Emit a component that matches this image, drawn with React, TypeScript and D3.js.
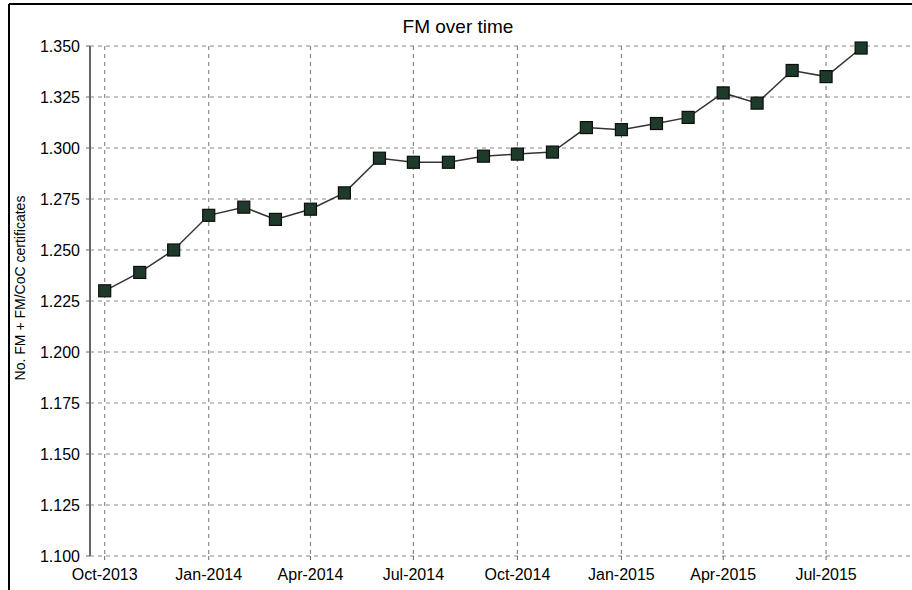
import React from "react";
import * as d3 from "d3";

const months: string[] = [
  "2013-10", "2013-11", "2013-12", "2014-01", "2014-02", "2014-03", "2014-04", "2014-05",
  "2014-06", "2014-07", "2014-08", "2014-09", "2014-10", "2014-11", "2014-12", "2015-01",
  "2015-02", "2015-03", "2015-04", "2015-05", "2015-06", "2015-07", "2015-08",
];
const values: number[] = [
  1.230, 1.239, 1.250, 1.267, 1.271, 1.265, 1.270, 1.278,
  1.295, 1.293, 1.293, 1.296, 1.297, 1.298, 1.310, 1.309,
  1.312, 1.315, 1.327, 1.322, 1.338, 1.335, 1.349,
];
const yTicks: number[] = [1.1, 1.125, 1.15, 1.175, 1.2, 1.225, 1.25, 1.275, 1.3, 1.325, 1.35];
const xTickMonths: string[] = ["2013-10", "2014-01", "2014-04", "2014-07", "2014-10", "2015-01", "2015-04", "2015-07"];
const title = "FM over time";
const yLabel = "No. FM + FM/CoC certificates";

const parse = d3.timeParse("%Y-%m");
const fmtX = d3.timeFormat("%b-%Y");
const fmtY = (v: number) => v.toFixed(3);

export default function App() {
  const W = 912, H = 590;
  const left = 90, right = 912, top = 46, bottom = 556;
  const x = d3
    .scaleTime()
    .domain([new Date(2013, 8, 18), new Date(2015, 8, 15)])
    .range([left, right]);
  const y = d3.scaleLinear().domain([1.1, 1.35]).range([bottom, top]);
  const pts = months.map((m, i) => ({ d: parse(m) as Date, v: values[i] }));
  const line = d3
    .line<{ d: Date; v: number }>()
    .x((p) => x(p.d))
    .y((p) => y(p.v));
  const font = "'Liberation Sans', Arial, sans-serif";
  const grid = "#8a8a8a";
  const ms = 12;
  return (
    <svg
      width={W}
      height={H}
      style={{ position: "absolute", left: 0, top: 0, background: "#fff" }}
      fontFamily={font}
    >
      <rect x={0} y={0} width={W} height={H} fill="#fff" />
      <line x1={9} y1={4} x2={W} y2={4} stroke="#000" strokeWidth={2} />
      <line x1={9} y1={4} x2={9} y2={H} stroke="#000" strokeWidth={2} />
      <text x={458} y={33} textAnchor="middle" fontSize={19} fill="#000">
        {title}
      </text>
      {yTicks.map((t) => (
        <g key={"y" + t}>
          <line x1={left} x2={right} y1={y(t)} y2={y(t)} stroke={grid} strokeWidth={1.2} strokeDasharray="4,4" />
          <line x1={left - 4} x2={left} y1={y(t)} y2={y(t)} stroke="#666" strokeWidth={1} />
          <text x={80} y={y(t)} dy="0.36em" textAnchor="end" fontSize={16} fill="#000">
            {fmtY(t)}
          </text>
        </g>
      ))}
      {xTickMonths.map((m) => {
        const xx = x(parse(m) as Date);
        return (
          <g key={"x" + m}>
            <line x1={xx} x2={xx} y1={top} y2={bottom} stroke={grid} strokeWidth={1.2} strokeDasharray="4,4" />
            <line x1={xx} x2={xx} y1={bottom} y2={bottom + 4} stroke="#666" strokeWidth={1} />
            <text x={xx} y={580} textAnchor="middle" fontSize={16} fill="#000">
              {fmtX(parse(m) as Date)}
            </text>
          </g>
        );
      })}
      <line x1={left} x2={left} y1={top} y2={bottom} stroke="#666" strokeWidth={2} />
      <text
        transform={`translate(25,288) rotate(-90)`}
        textAnchor="middle"
        fontSize={14}
        fill="#000"
      >
        {yLabel}
      </text>
      <path d={line(pts) || ""} fill="none" stroke="#333" strokeWidth={1.5} />
      {pts.map((p, i) => (
        <rect
          key={i}
          x={x(p.d) - ms / 2}
          y={y(p.v) - ms / 2}
          width={ms}
          height={ms}
          fill="#1d3a2a"
          stroke="#0d0d0d"
          strokeWidth={1.2}
        />
      ))}
    </svg>
  );
}
